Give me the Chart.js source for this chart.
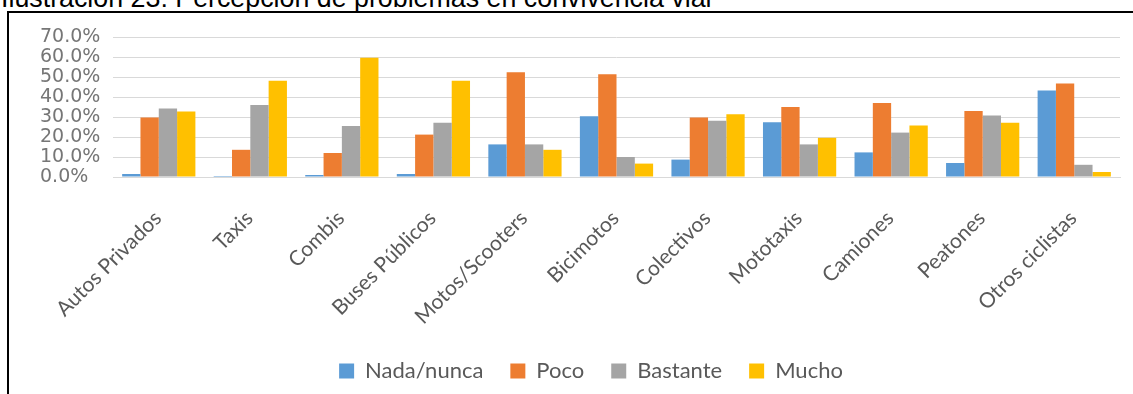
<!DOCTYPE html>
<html>
<head>
<meta charset="utf-8">
<script src="https://cdn.jsdelivr.net/npm/chart.js@4/dist/chart.umd.min.js"></script>
<style>
  html, body { margin: 0; padding: 0; background: #fff; overflow: hidden; width: 1133px; height: 394px; }
  .caption {
    position: absolute; left: 1px; top: -14px;
    font: 26.8px/25px "Liberation Sans", Arial, sans-serif; color: #000; white-space: nowrap;
  }
  .frame {
    position: absolute; left: 7px; top: 11px; width: 1300px; height: 600px;
    border-left: 2px solid #000; border-top: 2px solid #000;
  }
  /* the chart box runs past the right edge of the page */
  .wrap { position: absolute; left: 9px; top: 13px; width: 1146px; height: 381px; }
</style>
</head>
<body>
<div class="caption">Ilustración 23: Percepción de problemas en convivencia vial</div>
<div class="frame"></div>
<div class="wrap"><canvas id="chart" width="1146" height="381"></canvas></div>
<script>
// ── Percepción de problemas en convivencia vial ──

const CATEGORIES = ['Autos Privados', 'Taxis', 'Combis', 'Buses Públicos', 'Motos/Scooters',
  'Bicimotos', 'Colectivos', 'Mototaxis', 'Camiones', 'Peatones', 'Otros ciclistas'];

const NADA     = [1.5, 0.5, 1.0, 1.5, 16.3, 30.4, 8.7, 27.4, 12.3, 7.0, 43.2];
const POCO     = [29.7, 13.6, 12.0, 21.2, 52.4, 51.4, 29.7, 35.0, 37.0, 33.0, 46.8];
const BASTANTE = [34.3, 36.0, 25.5, 27.1, 16.3, 10.0, 28.1, 16.3, 22.2, 30.7, 6.1];
const MUCHO    = [32.7, 48.1, 59.6, 48.1, 13.6, 6.7, 31.4, 19.6, 25.8, 27.1, 2.5];

const Y_MAX = 70;
const Y_STEP = 10;

const series = [
  { label: 'Nada/nunca', data: NADA, color: '#5B9BD5' },
  { label: 'Poco', data: POCO, color: '#ED7D31' },
  { label: 'Bastante', data: BASTANTE, color: '#A5A5A5' },
  { label: 'Mucho', data: MUCHO, color: '#FFC000' },
];

new Chart(document.getElementById('chart').getContext('2d'), {
  type: 'bar',
  data: {
    labels: CATEGORIES,
    datasets: series.map(s => ({
      label: s.label,
      data: s.data,
      backgroundColor: s.color,
      borderWidth: 0,
      categoryPercentage: 0.8,
      barPercentage: 1.0,
    }))
  },
  options: {
    responsive: false,
    animation: false,
    devicePixelRatio: 1,
    layout: { padding: { top: 24, right: 13, bottom: 2, left: 31 } },
    plugins: {
      tooltip: { enabled: false },
      legend: {
        position: 'bottom',
        labels: {
          boxWidth: 15, boxHeight: 15, padding: 27,
          color: '#595959',
          font: { family: 'Lato', size: 22 },
        }
      }
    },
    scales: {
      x: {
        grid: { display: false, drawTicks: false },
        border: { color: '#d9d9d9' },
        ticks: {
          minRotation: 45, maxRotation: 45, padding: 29, labelOffset: -1,
          color: '#595959',
          font: { family: 'Lato', size: 21 },
        },
        afterFit: scale => { scale.height = 156; }
      },
      y: {
        min: 0, max: Y_MAX,
        grid: { color: '#d9d9d9', drawTicks: false },
        border: { display: false },
        ticks: {
          stepSize: Y_STEP, autoSkip: false, crossAlign: 'far',
          color: '#767676',
          font: { family: 'DejaVu Sans', size: 19 },
          callback: v => v.toFixed(1) + '%'
        },
        afterFit: scale => { scale.width = 73; }
      },
      // empty strip on the right so the plot ends before the legend's centre line
      side: {
        position: 'right',
        grid: { display: false },
        border: { display: false },
        ticks: { display: false },
        afterFit: scale => { scale.width = 22; }
      }
    }
  }
});
</script>
</body>
</html>
